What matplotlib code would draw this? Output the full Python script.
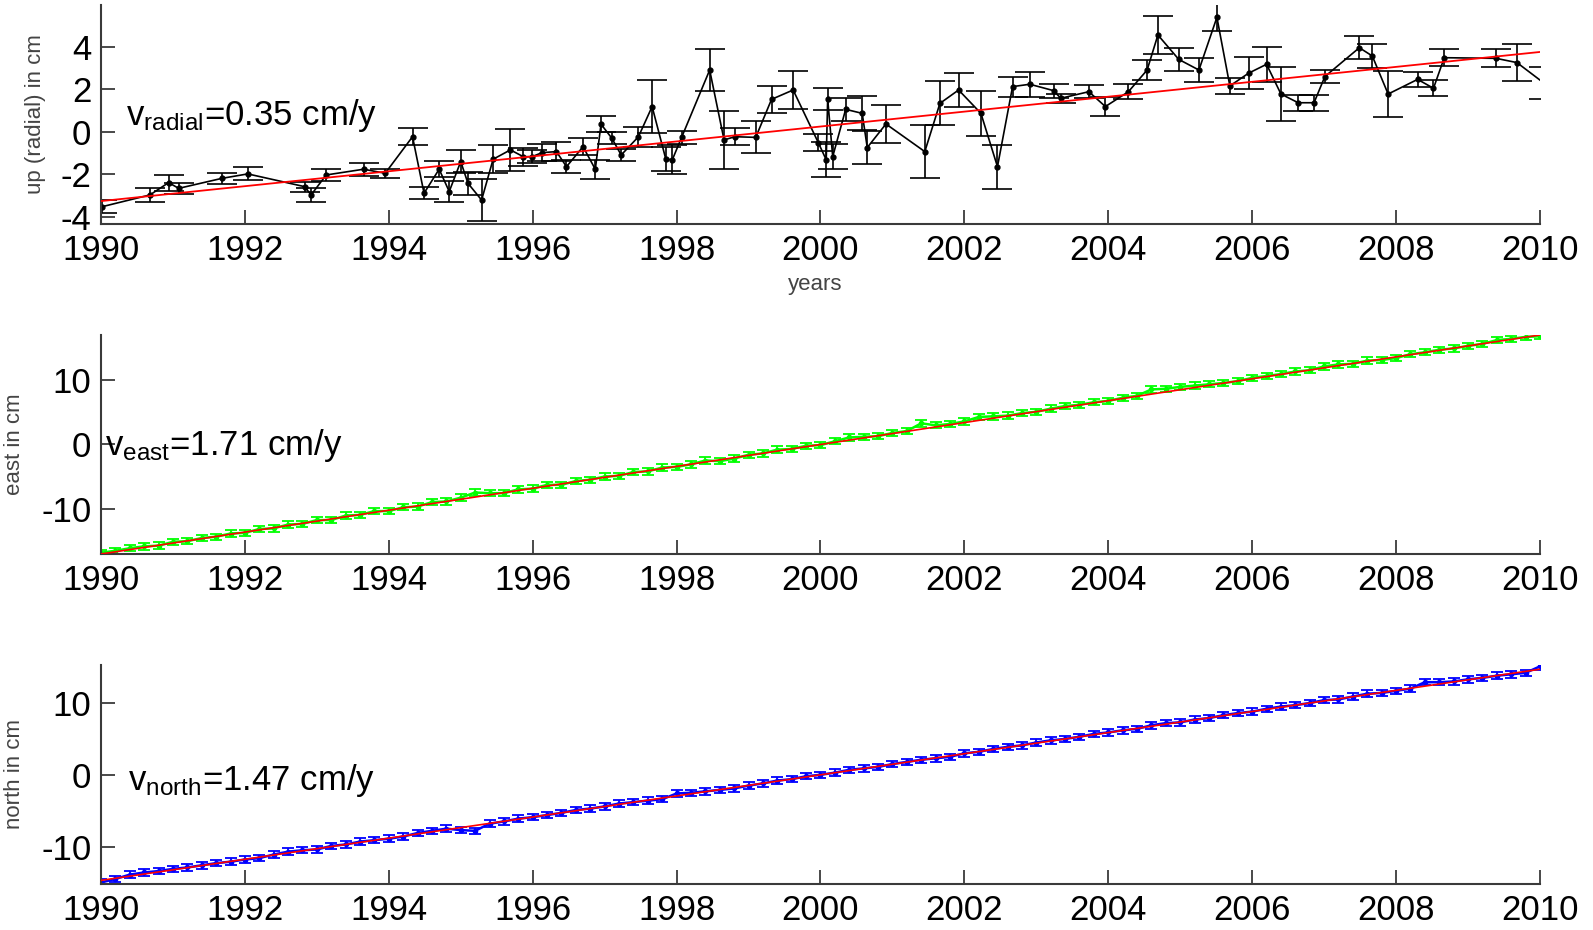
import matplotlib
matplotlib.use("Agg")
import matplotlib.pyplot as plt

plt.rcParams['font.family'] = ['Liberation Sans', 'DejaVu Sans']
plt.rcParams['mathtext.default'] = 'regular'
plt.rcParams['axes.unicode_minus'] = False

# --- radial (up) component ---
up_years = [1990.02, 1990.68, 1990.94, 1991.08, 1991.68, 1992.04, 1992.83, 1992.92,
            1993.13, 1993.65, 1993.95, 1994.33, 1994.49, 1994.70, 1994.84, 1995.00,
            1995.10, 1995.29, 1995.45, 1995.69, 1995.87, 1995.99, 1996.13, 1996.33,
            1996.47, 1996.70, 1996.87, 1996.95, 1997.10, 1997.23, 1997.47, 1997.66,
            1997.85, 1997.94, 1998.07, 1998.46, 1998.66, 1998.81, 1999.10, 1999.32,
            1999.62, 1999.97, 2000.08, 2000.10, 2000.17, 2000.35, 2000.58, 2000.65,
            2000.91, 2001.45, 2001.66, 2001.92, 2002.23, 2002.46, 2002.67, 2002.91,
            2003.24, 2003.34, 2003.73, 2003.96, 2004.28, 2004.54, 2004.69, 2004.98,
            2005.26, 2005.51, 2005.69, 2005.95, 2006.20, 2006.40, 2006.64, 2006.86,
            2007.01, 2007.49, 2007.67, 2007.89, 2008.30, 2008.52, 2008.67, 2009.39,
            2009.68, 2010.05]
up_vals = [-3.53, -2.98, -2.40, -2.67, -2.20, -1.99, -2.59, -2.98,
           -2.04, -1.77, -1.96, -0.24, -2.90, -1.77, -2.82, -1.41,
           -2.43, -3.22, -1.30, -0.86, -1.18, -1.18, -0.99, -0.94,
           -1.65, -0.71, -1.77, 0.35, -0.31, -1.10, -0.24, 1.18,
           -1.29, -1.33, -0.27, 2.90, -0.39, -0.24, -0.27, 1.52,
           1.96, -0.52, -1.33, 1.54, -1.18, 1.05, 0.86, -0.75,
           0.36, -0.94, 1.33, 1.96, 0.86, -1.65, 2.12, 2.23,
           1.93, 1.57, 1.88, 1.18, 1.88, 2.90, 4.55, 3.40,
           2.90, 5.38, 2.15, 2.75, 3.17, 1.77, 1.36, 1.36,
           2.59, 3.95, 3.56, 1.77, 2.46, 2.04, 3.48, 3.45,
           3.25, 2.30]
up_err = [0.31, 0.34, 0.38, 0.25, 0.27, 0.31, 0.24, 0.31,
          0.27, 0.31, 0.20, 0.39, 0.29, 0.37, 0.51, 0.55,
          0.55, 1.00, 0.67, 0.98, 0.43, 0.30, 0.39, 0.43,
          0.31, 0.39, 0.45, 0.38, 0.29, 0.29, 0.47, 1.24,
          0.55, 0.68, 0.30, 0.99, 1.36, 0.39, 0.75, 0.63,
          0.88, 0.40, 0.82, 0.51, 0.59, 0.55, 0.80, 0.78,
          0.89, 1.25, 1.04, 0.78, 1.06, 1.04, 0.47, 0.59,
          0.33, 0.22, 0.31, 0.43, 0.34, 0.47, 0.89, 0.55,
          0.57, 0.64, 0.38, 0.75, 0.82, 1.27, 0.38, 0.38,
          0.32, 0.55, 0.56, 1.07, 0.34, 0.37, 0.40, 0.43,
          0.89, 0.76]

# --- east and north components (sampled every 0.2 years) ---
en_years = [1990.0 + 0.2 * i for i in range(101)]
east_vals = [-16.9, -16.6, -16.2, -15.9, -15.8, -15.2, -15.1, -14.6, -14.4, -13.9,
             -13.8, -13.2, -13.1, -12.5, -12.4, -11.8, -11.8, -11.1, -11.0, -10.4,
             -10.4, -9.8, -9.7, -9.0, -8.9, -8.3, -7.5, -7.6, -7.6, -7.0,
             -6.9, -6.3, -6.3, -5.7, -5.5, -5.0, -4.9, -4.3, -4.2, -3.6,
             -3.5, -3.1, -2.5, -2.6, -2.2, -1.6, -1.4, -0.8, -0.7, -0.2,
             -0.1, 0.5, 1.1, 1.2, 1.3, 1.8, 2.1, 3.3, 3.0, 3.2,
             3.6, 4.3, 4.4, 4.5, 4.9, 5.1, 5.6, 6.0, 6.2, 6.6,
             6.8, 7.3, 7.6, 8.6, 8.7, 9.0, 9.2, 9.4, 9.6, 9.9,
             10.4, 10.7, 11.0, 11.4, 11.6, 12.2, 12.5, 12.6, 13.1, 13.2,
             13.5, 14.1, 14.4, 14.8, 15.0, 15.4, 15.7, 16.3, 16.5, 16.8,
             16.9]
north_vals = [-15.0, -14.5, -13.9, -13.6, -13.4, -13.1, -12.9, -12.6, -12.3, -12.1,
              -11.8, -11.6, -11.1, -10.7, -10.5, -10.4, -9.9, -9.7, -9.3, -9.1,
              -8.9, -8.6, -8.1, -7.8, -7.5, -7.7, -7.8, -6.8, -6.5, -6.1,
              -5.9, -5.6, -5.3, -4.9, -4.7, -4.4, -4.0, -3.8, -3.6, -3.4,
              -2.6, -2.5, -2.3, -2.1, -1.9, -1.5, -1.2, -0.8, -0.6, -0.2,
              0.0, 0.3, 0.7, 0.9, 1.1, 1.5, 1.8, 2.1, 2.3, 2.5,
              3.0, 3.2, 3.6, 3.9, 4.1, 4.5, 4.8, 5.0, 5.3, 5.7,
              5.9, 6.2, 6.4, 6.9, 7.2, 7.3, 7.7, 7.9, 8.3, 8.6,
              8.8, 9.2, 9.5, 9.7, 10.0, 10.4, 10.5, 10.9, 11.3, 11.4,
              11.7, 12.0, 12.9, 12.9, 13.0, 13.3, 13.5, 13.8, 14.0, 14.2,
              15.1]
east_err = 0.5
north_err = 0.45

# fitted trend lines (end points)
trend_years = [1990, 2010]
up_trend = [-3.27, 3.75]
east_trend = [-17.1, 17.1]
north_trend = [-14.7, 14.7]

x_ticks = list(range(1990, 2011, 2))


def style_axes(ax, ylim, yticks):
    ax.set_xlim(1990, 2010)
    ax.set_ylim(*ylim)
    ax.set_xticks(x_ticks)
    ax.set_yticks(yticks)
    for side in ['top', 'right']:
        ax.spines[side].set_visible(False)
    for side in ['left', 'bottom']:
        ax.spines[side].set_color('#3a3a3a')
        ax.spines[side].set_linewidth(1.5)
    ax.tick_params(direction='in', length=10, width=1.3, color='#3a3a3a',
                   labelsize=25, pad=7)


fig = plt.figure(figsize=(15.93, 9.30), dpi=100)

# top: radial
ax1 = fig.add_axes([0.0634, 0.7591, 0.9033, 0.2355])
ax1.errorbar(up_years, up_vals, yerr=up_err, color='black', lw=1.2, marker='.',
             ms=7, capsize=10.5, elinewidth=1.2, capthick=1.2)
ax1.plot(trend_years, up_trend, color='red', lw=1.3, zorder=5)
style_axes(ax1, (-4.35, 5.96), [-4, -2, 0, 2, 4])
ax1.yaxis.set_label_coords(-0.038, 0.5)
ax1.set_ylabel('up (radial) in cm', fontsize=16, color='#444444')
ax1.text(0.4965, -0.274, 'years', transform=ax1.transAxes, ha='center',
         va='center', fontsize=16, color='#444444')
ax1.text(1990.35, 0.33, '$v_{radial}$=0.35 cm/y', fontsize=25, va='baseline')

# middle: east
ax2 = fig.add_axes([0.0634, 0.4043, 0.9033, 0.2355])
ax2.errorbar(en_years, east_vals, yerr=east_err, color='#00ff00', lw=1.8,
             marker='.', ms=6, capsize=4.5, elinewidth=1.3, capthick=1.3)
ax2.plot(trend_years, east_trend, color='red', lw=1.2, zorder=5)
style_axes(ax2, (-17.1, 17.1), [-10, 0, 10])
ax2.yaxis.set_label_coords(-0.053, 0.5)
ax2.set_ylabel('east in cm', fontsize=16, color='#444444')
ax2.text(1990.06, -1.7, '$v_{east}$=1.71 cm/y', fontsize=25, va='baseline')

# bottom: north
ax3 = fig.add_axes([0.0634, 0.0495, 0.9033, 0.2355])
ax3.errorbar(en_years, north_vals, yerr=north_err, color='#0000ff', lw=1.8,
             marker='.', ms=6, capsize=4.5, elinewidth=1.3, capthick=1.3)
ax3.plot(trend_years, north_trend, color='red', lw=1.2, zorder=5)
style_axes(ax3, (-15.2, 15.3), [-10, 0, 10])
ax3.yaxis.set_label_coords(-0.053, 0.5)
ax3.set_ylabel('north in cm', fontsize=16, color='#444444')
ax3.text(1990.38, -2.1, '$v_{north}$=1.47 cm/y', fontsize=25, va='baseline')

fig.savefig('out.png', dpi=100)
